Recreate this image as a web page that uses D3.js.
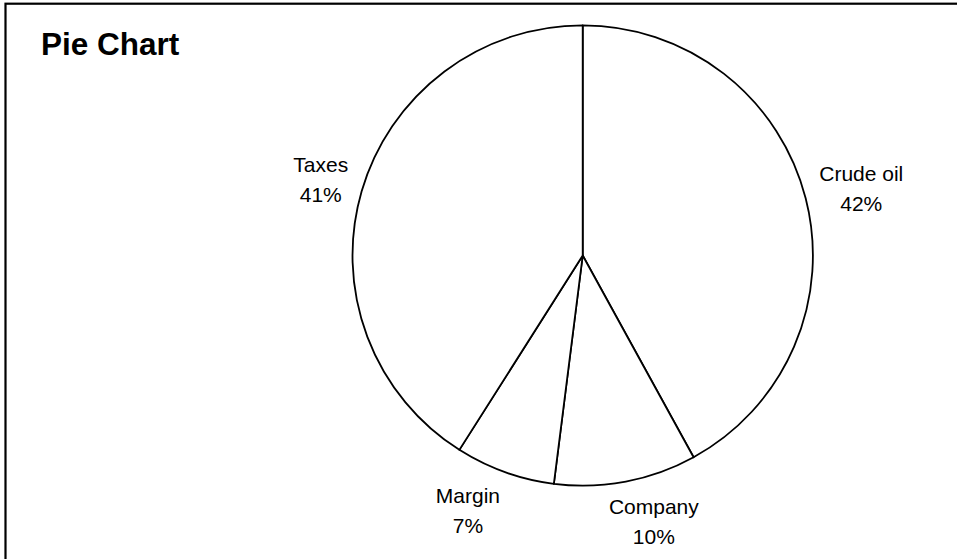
<!DOCTYPE html>
<html><head><meta charset="utf-8">
<script src="https://cdn.jsdelivr.net/npm/d3@7"></script>
<style>html,body{margin:0;padding:0;background:#fff;}svg{display:block;}</style>
</head><body>
<svg id="chart" width="957" height="559"></svg>
<script>
const categories = ["Crude oil", "Company", "Margin", "Taxes"];
const values = [42, 10, 7, 41];
const percentLabels = ["42%", "10%", "7%", "41%"];
const title = "Pie Chart";

const W = 957, H = 559;
const svg = d3.select("#chart");
const font = "'Liberation Sans', Arial, Helvetica, sans-serif";

// outer frame (extends past the right and bottom edges)
svg.append("rect").attr("x", 5.5).attr("y", 3.7).attr("width", W + 20).attr("height", H + 20)
  .attr("fill", "#fff").attr("stroke", "#000").attr("stroke-width", 2.2);

svg.append("text").attr("x", 41).attr("y", 55).attr("font-family", font)
  .attr("font-weight", "bold").attr("font-size", 31.5).attr("fill", "#000").text(title);

const cx = 582.7, cy = 255.5, R = 230.2;
const data = categories.map((c, i) => ({cat: c, value: values[i], pct: percentLabels[i]}));
const pie = d3.pie().value(d => d.value).sort(null).startAngle(0).endAngle(2 * Math.PI);
const arcs = pie(data);
const arc = d3.arc().innerRadius(0).outerRadius(R);

const g = svg.append("g").attr("transform", `translate(${cx},${cy})`);
g.selectAll("path").data(arcs).join("path")
  .attr("d", arc).attr("fill", "#fff").attr("stroke", "#000").attr("stroke-width", 1.8)
  .attr("stroke-linejoin", "round");

const labelR = R + 14, lineGap = 30, fs = 21, cap = 15;
arcs.forEach(a => {
  const mid = (a.startAngle + a.endAngle) / 2;
  const s = Math.sin(mid), c = Math.cos(mid);
  const t = g.append("text").attr("font-family", font).attr("font-size", fs)
    .attr("fill", "#000").attr("text-anchor", "middle");
  t.append("tspan").attr("x", 0).attr("y", 0).text(a.data.cat);
  t.append("tspan").attr("x", 0).attr("y", lineGap).text(a.data.pct);
  const w = t.node().getBBox().width;
  const h = cap + lineGap;
  const px = labelR * s + (w / 2) * Math.max(-1, Math.min(1, 3 * s));
  const py = -labelR * c - (h / 2) * c * 1.2;
  const b1 = py - (lineGap - cap) / 2;
  t.attr("transform", `translate(${px},${b1})`);
});
</script>
</body></html>
